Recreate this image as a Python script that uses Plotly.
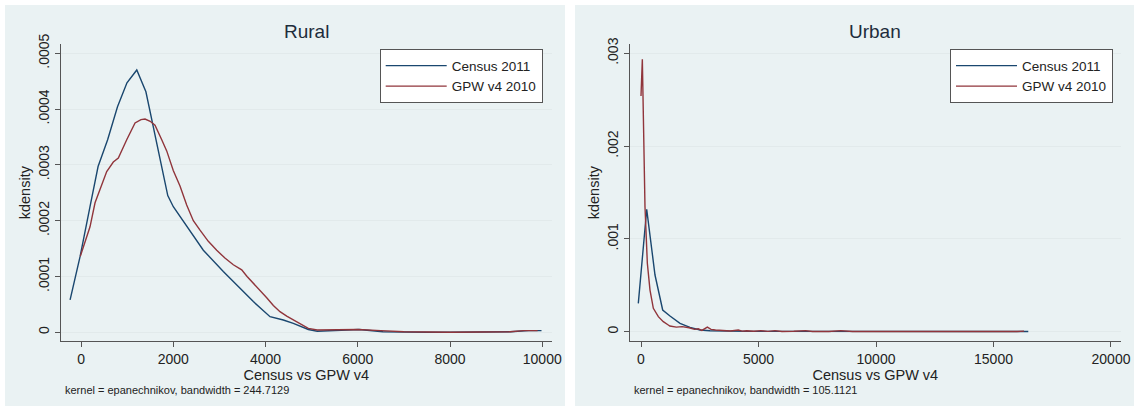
import plotly.graph_objects as go

# ---------------- data ----------------
rural_census_x = [-237, -22, 195, 370, 577, 791, 996, 1209, 1407, 1565, 1750, 1881, 2001, 2250,
                  2435, 2652, 3085, 3302, 3736, 4098, 4386, 4603, 4928, 5122, 5518, 6032, 6545,
                  7000, 7500, 8000, 8500, 9000, 9312, 9708, 9984]
rural_census_y = [5.8e-5, 1.35e-4, 2.25e-4, 2.97e-4, 3.45e-4, 4.04e-4, 4.47e-4, 4.70e-4, 4.31e-4,
                  3.69e-4, 2.97e-4, 2.45e-4, 2.25e-4, 1.95e-4, 1.75e-4, 1.47e-4, 1.09e-4, 9.1e-5,
                  5.5e-5, 2.8e-5, 2.2e-5, 1.6e-5, 5e-6, 2e-6, 3e-6, 5e-6, 1e-6, 0, 0, 0, 0, 0,
                  1e-6, 3e-6, 3e-6]

rural_gpw_x = [-16, 195, 304, 412, 557, 700, 809, 991, 1171, 1300, 1388, 1500, 1604, 1750, 1858,
               2000, 2146, 2291, 2435, 2580, 2760, 2942, 3120, 3302, 3484, 3600, 3736, 3880, 4026,
               4170, 4314, 4460, 4603, 4760, 4928, 5122, 5500, 6000, 6500, 7000, 8000, 9000, 9300,
               9600, 9900]
rural_gpw_y = [1.36e-4, 1.89e-4, 2.32e-4, 2.55e-4, 2.88e-4, 3.05e-4, 3.12e-4, 3.45e-4, 3.75e-4,
               3.81e-4, 3.82e-4, 3.78e-4, 3.71e-4, 3.45e-4, 3.25e-4, 2.90e-4, 2.62e-4, 2.28e-4,
               2.00e-4, 1.83e-4, 1.63e-4, 1.47e-4, 1.33e-4, 1.21e-4, 1.12e-4, 1.0e-4, 8.8e-5,
               7.6e-5, 6.2e-5, 4.8e-5, 3.7e-5, 2.9e-5, 2.2e-5, 1.5e-5, 7e-6, 4e-6, 4e-6, 5e-6,
               3e-6, 1e-6, 0, 0, 1e-6, 3e-6, 3e-6]

urban_census_x = [-115, 243, 596, 923, 1234, 1660, 2085, 2511, 2936, 3500, 4500, 5500, 6500, 7500,
                  8500, 9500, 10500, 11500, 12500, 13500, 14500, 15500, 16480]
urban_census_y = [3.06e-4, 1.319e-3, 6.11e-4, 2.34e-4, 1.69e-4, 9.0e-5, 4.7e-5, 1.8e-5, 1.0e-5,
                  5e-6, 4e-6, 4e-6, 3e-6, 3e-6, 4e-6, 3e-6, 3e-6, 3e-6, 3e-6, 3e-6, 3e-6, 3e-6, 3e-6]

urban_gpw_x = [0, 57, 170, 270, 383, 525, 738, 949, 1162, 1226, 1505, 1750, 2048, 2280, 2436, 2591,
               2823, 2979, 3170, 3366, 3600, 3800, 4142, 4300, 4500, 4800, 5100, 5400, 5700, 6000,
               6500, 7000, 7300, 8000, 8500, 8700, 9000, 10000, 11000, 12000, 13000, 14000, 15000,
               16000, 16300]
urban_gpw_y = [2.54e-3, 2.935e-3, 1.347e-3, 7.37e-4, 4.49e-4, 2.52e-4, 1.62e-4, 1.08e-4, 7.2e-5,
               6.1e-5, 5.0e-5, 5.5e-5, 4.3e-5, 2.5e-5, 3.2e-5, 1.4e-5, 5.0e-5, 2.5e-5, 1.8e-5,
               1.4e-5, 1.0e-5, 8e-6, 1.8e-5, 6e-6, 1e-5, 5e-6, 1.2e-5, 4e-6, 1.2e-5, 3e-6, 5e-6,
               1.2e-5, 3e-6, 2e-6, 1.2e-5, 1e-5, 3e-6, 2e-6, 1e-6, 1e-6, 1e-6, 1e-6, 2e-6, 3e-6, 6e-6]

series_names = ["Census 2011", "GPW v4 2010"]
panel_titles = ["Rural", "Urban"]
notes = ["kernel = epanechnikov, bandwidth = 244.7129",
         "kernel = epanechnikov, bandwidth = 105.1121"]

rural_xticks = [0, 2000, 4000, 6000, 8000, 10000]
rural_xticktext = ["0", "2000", "4000", "6000", "8000", "10000"]
rural_yticks = [0, 0.0001, 0.0002, 0.0003, 0.0004, 0.0005]
rural_yticktext = ["0", ".0001", ".0002", ".0003", ".0004", ".0005"]
urban_xticks = [0, 5000, 10000, 15000, 20000]
urban_xticktext = ["0", "5000", "10000", "15000", "20000"]
urban_yticks = [0, 0.001, 0.002, 0.003]
urban_yticktext = ["0", ".001", ".002", ".003"]

# ---------------- style ----------------
W, H = 1138, 411
NAVY = "#1a476f"
MAROON = "#90353b"
BG = "#eaf2f3"
FONT = "Liberation Sans, Arial, sans-serif"
TXT = "#222222"

def px(x):
    return x / W

def py(y):
    return 1 - y / H

fig = go.Figure()

panels = [
    dict(xa="x", ya="y", xd=[px(61), px(551.7)], xr=[-434, 10205], yr=[-0.0000156, 0.000516],
         xt=rural_xticks, xtt=rural_xticktext, yt=rural_yticks, ytt=rural_yticktext,
         cx=rural_census_x, cy=rural_census_y, gx=rural_gpw_x, gy=rural_gpw_y,
         legend="legend", bg=[5, 565], notex=63),
    dict(xa="x2", ya="y2", xd=[px(630), px(1120.7)], xr=[-468, 20413], yr=[-0.0001, 0.003097],
         xt=urban_xticks, xtt=urban_xticktext, yt=urban_yticks, ytt=urban_yticktext,
         cx=urban_census_x, cy=urban_census_y, gx=urban_gpw_x, gy=urban_gpw_y,
         legend="legend2", bg=[575, 1134], notex=632),
]

ydom = [py(341), py(44.3)]
axis_common = dict(showline=True, linecolor="#555555", linewidth=1, ticks="outside",
                   ticklen=5, tickcolor="#555555", zeroline=False, automargin=False,
                   tickfont=dict(family=FONT, size=14, color=TXT))

layout_axes = {}
for i, p in enumerate(panels):
    sfx = "" if i == 0 else "2"
    fig.add_trace(go.Scatter(x=p["cx"], y=p["cy"], mode="lines", name=series_names[0],
                             line=dict(color=NAVY, width=1.4), xaxis=p["xa"], yaxis=p["ya"],
                             legend=p["legend"]))
    fig.add_trace(go.Scatter(x=p["gx"], y=p["gy"], mode="lines", name=series_names[1],
                             line=dict(color=MAROON, width=1.4), xaxis=p["xa"], yaxis=p["ya"],
                             legend=p["legend"]))
    layout_axes["xaxis" + sfx] = dict(domain=p["xd"], range=p["xr"], tickvals=p["xt"],
                                      ticktext=p["xtt"], showgrid=False, anchor="y" + sfx,
                                      title=dict(text="Census vs GPW v4", standoff=0,
                                                 font=dict(family=FONT, size=14.5, color=TXT)),
                                      **axis_common)
    layout_axes["yaxis" + sfx] = dict(domain=ydom, range=p["yr"], tickvals=p["yt"],
                                      ticktext=p["ytt"], tickangle=-90, showgrid=True,
                                      gridcolor="#e2eaeb", gridwidth=1, anchor="x" + sfx,
                                      title=dict(text="kdensity", standoff=2,
                                                 font=dict(family=FONT, size=14.5, color=TXT)),
                                      **axis_common)
    # panel background
    fig.add_shape(type="rect", xref="paper", yref="paper", x0=px(p["bg"][0]), x1=px(p["bg"][1]),
                  y0=py(406), y1=py(5), fillcolor=BG, line=dict(width=0), layer="below")
    # title
    fig.add_annotation(text=panel_titles[i], xref="paper", yref="paper",
                       x=(p["xd"][0] + p["xd"][1]) / 2, y=py(31), xanchor="center",
                       yanchor="middle", showarrow=False,
                       font=dict(family=FONT, size=19, color="#1e2d3b"))
    # note
    fig.add_annotation(text=notes[i], xref="paper", yref="paper", x=px(p["notex"]), y=py(390),
                       xanchor="left", yanchor="middle", showarrow=False,
                       font=dict(family=FONT, size=11, color=TXT))

legend_common = dict(bgcolor="white", bordercolor="#555555", borderwidth=1,
                     font=dict(family=FONT, size=13.5, color=TXT), xanchor="right",
                     yanchor="top", itemwidth=61, tracegroupgap=0)

fig.update_layout(
    width=W, height=H, autosize=False,
    margin=dict(l=0, r=0, t=0, b=0),
    paper_bgcolor="white", plot_bgcolor="white",
    showlegend=True,
    legend=dict(x=px(542.7), y=py(49.3), **legend_common),
    legend2=dict(x=px(1113), y=py(49.3), **legend_common),
    **layout_axes,
)

fig.write_html("out.html", config={"displayModeBar": False},
               post_script="document.body.style.margin='0';document.body.style.overflow='hidden';")
